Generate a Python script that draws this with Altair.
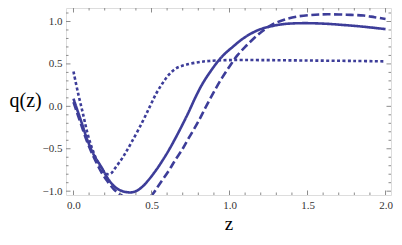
import altair as alt
import pandas as pd

# ---- data ----
z_solid = [0, 0.02, 0.05, 0.09, 0.13, 0.18, 0.22, 0.26, 0.30, 0.36, 0.40, 0.44, 0.48, 0.53,
           0.57, 0.61, 0.655, 0.70, 0.74, 0.78, 0.825, 0.87, 0.93, 0.97, 1.02, 1.08, 1.14,
           1.20, 1.27, 1.35, 1.46, 1.60, 1.72, 1.85, 2.0]
q_solid = [0.09, -0.02, -0.18, -0.40, -0.57, -0.72, -0.85, -0.94, -0.99, -1.015, -1.0, -0.95,
           -0.87, -0.75, -0.64, -0.52, -0.37, -0.21, -0.06, 0.10, 0.26, 0.39, 0.54, 0.62, 0.70,
           0.79, 0.86, 0.91, 0.945, 0.97, 0.98, 0.975, 0.96, 0.94, 0.91]

z_dash = [0, 0.02, 0.05, 0.09, 0.13, 0.18, 0.22, 0.26, 0.30, 0.35, 0.40, 0.45, 0.50, 0.55,
          0.61, 0.65, 0.70, 0.74, 0.80, 0.85, 0.90, 0.95, 1.0, 1.05, 1.10, 1.15, 1.20, 1.27,
          1.35, 1.44, 1.55, 1.63, 1.75, 1.86, 1.93, 2.0]
q_dash = [0.05, -0.06, -0.22, -0.43, -0.60, -0.78, -0.89, -0.98, -1.04, -1.09, -1.12, -1.11,
          -1.05, -0.92, -0.76, -0.64, -0.50, -0.37, -0.18, 0.0, 0.17, 0.33, 0.47, 0.60, 0.70,
          0.79, 0.87, 0.96, 1.02, 1.06, 1.08, 1.085, 1.08, 1.07, 1.05, 1.03]

z_dot = [0, 0.03, 0.06, 0.09, 0.124, 0.167, 0.20, 0.22, 0.24, 0.27, 0.32, 0.37, 0.44, 0.49,
         0.53, 0.57, 0.61, 0.66, 0.72, 0.80, 0.87, 1.0, 1.2, 1.5, 1.8, 2.0]
q_dot = [0.41, 0.15, -0.08, -0.32, -0.52, -0.70, -0.78, -0.80, -0.79, -0.72, -0.59, -0.43,
         -0.19, 0.0, 0.15, 0.27, 0.37, 0.45, 0.49, 0.52, 0.535, 0.545, 0.545, 0.54, 0.535, 0.53]

x_major = [0.0, 0.5, 1.0, 1.5, 2.0]
x_minor = [0.1, 0.2, 0.3, 0.4, 0.6, 0.7, 0.8, 0.9, 1.1, 1.2, 1.3, 1.4, 1.6, 1.7, 1.8, 1.9]
y_major = [-1.0, -0.5, 0.0, 0.5, 1.0]
y_minor = [-0.9, -0.8, -0.7, -0.6, -0.4, -0.3, -0.2, -0.1, 0.1, 0.2, 0.3, 0.4,
           0.6, 0.7, 0.8, 0.9, 1.1]

series = ["solid", "dashed", "dotted"]

# ---- build tables ----
rows = []
for name, zs, qs in zip(series, [z_solid, z_dash, z_dot], [q_solid, q_dash, q_dot]):
    for i, (z, q) in enumerate(zip(zs, qs)):
        rows.append({"series": name, "z": z, "q": q, "order": i})
df = pd.DataFrame(rows)

W, H = 325, 187
XDOM = [-0.048, 2.035]
YDOM = [-1.045, 1.159]
COLOR = "#3d3d99"
FRAME = "#8c8c8c"
SERIF = "Liberation Serif, Times New Roman, serif"

xs = alt.Scale(domain=XDOM, nice=False, zero=False)
ys = alt.Scale(domain=YDOM, nice=False, zero=False)

lines = alt.Chart(df).mark_line(clip=True, strokeWidth=2.6, strokeCap="butt",
                                interpolate="catmull-rom", color=COLOR).encode(
    x=alt.X("z:Q", scale=xs, title="z",
            axis=alt.Axis(values=x_major, format=".1f", ticks=False, domain=False, grid=False,
                          labelFont=SERIF, labelFontSize=11, labelColor="#333",
                          labelPadding=4, titleFont=SERIF, titleFontSize=19,
                          titleFontWeight="normal", titleColor="#000",
                          titleBaseline="alphabetic", titleY=34)),
    y=alt.Y("q:Q", scale=ys, title="q(z)",
            axis=alt.Axis(values=y_major, format=".1f", ticks=False, domain=False, grid=False,
                          labelFont=SERIF, labelFontSize=11, labelColor="#333",
                          labelPadding=4, titleFont=SERIF, titleFontSize=20,
                          titleFontWeight="normal", titleColor="#000", titleAngle=0,
                          titleAlign="left", titleBaseline="middle", titleX=-57, titleY=92)),
    strokeDash=alt.StrokeDash("series:N", legend=None,
                              scale=alt.Scale(domain=series, range=[[1, 0], [8, 3.5], [3, 2.4]])),
    detail="series:N",
    order="order:Q",
)

xmaj = pd.DataFrame({"v": x_major})
xmin = pd.DataFrame({"v": x_minor})
ymaj = pd.DataFrame({"v": y_major})
ymin = pd.DataFrame({"v": y_minor})

def xticks(d, length, top):
    y0 = 0 if top else H
    y1 = length if top else H - length
    return alt.Chart(d).mark_rule(color=FRAME, strokeWidth=1).encode(
        x=alt.X("v:Q", scale=xs), y=alt.value(y0), y2=alt.value(y1))

def yticks(d, length, right):
    x0 = W if right else 0
    x1 = W - length if right else length
    return alt.Chart(d).mark_rule(color=FRAME, strokeWidth=1).encode(
        y=alt.Y("v:Q", scale=ys), x=alt.value(x0), x2=alt.value(x1))

tick_layers = [
    xticks(xmaj, 4.5, False), xticks(xmin, 2.5, False),
    xticks(xmaj, 4.5, True), xticks(xmin, 2.5, True),
    yticks(ymaj, 4.5, False), yticks(ymin, 2.5, False),
    yticks(ymaj, 4.5, True), yticks(ymin, 2.5, True),
]

chart = alt.layer(lines, *tick_layers).properties(
    width=W, height=H,
    autosize=alt.AutoSizeParams(type="none"),
    padding={"left": 58, "top": 0, "right": 3, "bottom": 38},
).configure_view(stroke=FRAME, strokeWidth=1).configure(background="white")

chart.save("out.html", embed_options={"renderer": "svg", "actions": False})
